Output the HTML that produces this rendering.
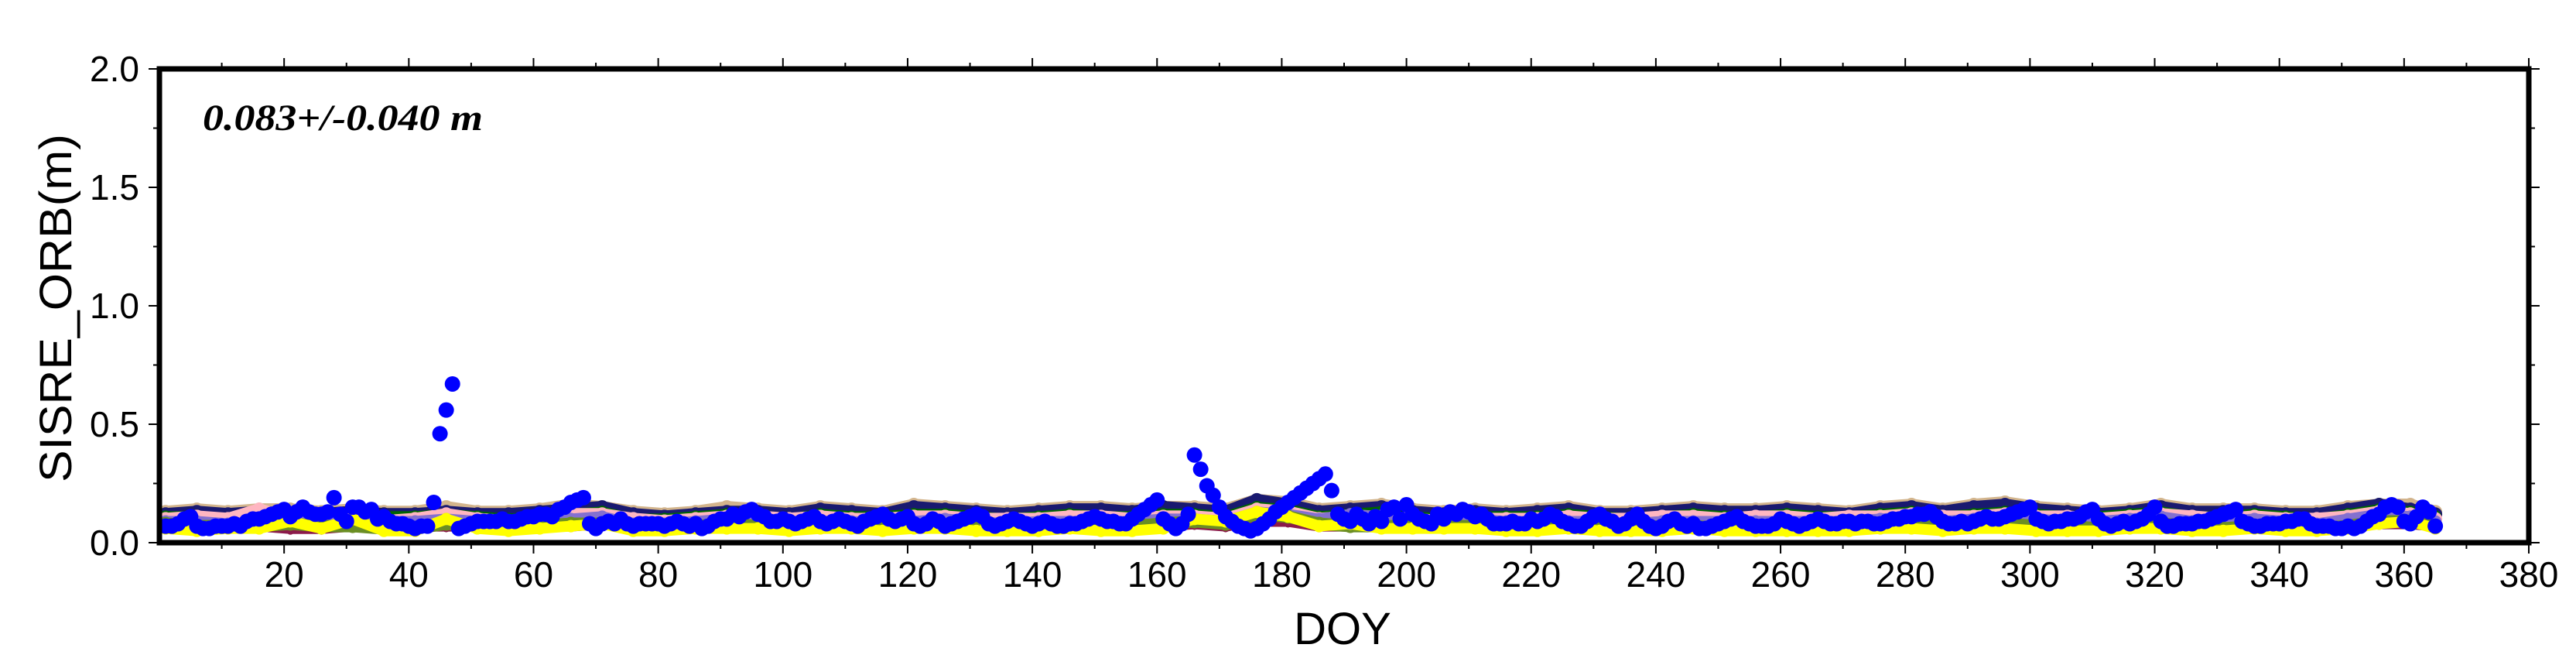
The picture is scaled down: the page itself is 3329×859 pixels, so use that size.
<!DOCTYPE html>
<html><head><meta charset="utf-8"><style>
html,body{margin:0;padding:0;background:#fff;width:3329px;height:859px;overflow:hidden}
svg{display:block}
</style></head><body>
<svg id="chart" xmlns="http://www.w3.org/2000/svg" width="3329" height="859" viewBox="0 0 3329 859">
<rect x="0" y="0" width="3329" height="859" fill="#fff"/>
<g id="series"></g>
<g id="axes"></g>
<text x="262" y="168" font-family="Liberation Serif, serif" font-weight="bold" font-style="italic" font-size="48" textLength="362" lengthAdjust="spacingAndGlyphs">0.083+/-0.040 m</text>
<text transform="translate(92,398) rotate(-90)" text-anchor="middle" font-family="Liberation Sans, sans-serif" font-size="58" textLength="450" lengthAdjust="spacingAndGlyphs">SISRE_ORB(m)</text>
<text x="1735" y="832" text-anchor="middle" font-family="Liberation Sans, sans-serif" font-size="58">DOY</text>
</svg>
<script>
const xTicks=[20,40,60,80,100,120,140,160,180,200,220,240,260,280,300,320,340,360,380];
const yTicks=[0.0,0.5,1.0,1.5,2.0];
const yTickLabels=["0.0","0.5","1.0","1.5","2.0"];
const blue=[.07,.07,.08,.10,.11,.07,.06,.06,.07,.07,
.07,.08,.07,.09,.10,.10,.11,.12,.13,.14,
.11,.13,.15,.13,.12,.12,.13,.19,.12,.09,
.15,.15,.13,.14,.10,.11,.09,.08,.08,.07,
.06,.07,.07,.17,.46,.56,.67,.06,.07,.08,
.09,.09,.09,.09,.10,.09,.09,.10,.11,.11,
.12,.12,.11,.14,.15,.17,.18,.19,.08,.06,
.08,.09,.08,.10,.08,.07,.08,.08,.08,.08,
.07,.08,.09,.08,.07,.08,.06,.07,.09,.10,
.10,.12,.11,.13,.14,.12,.11,.09,.09,.10,
.09,.08,.09,.10,.11,.09,.08,.09,.10,.09,
.08,.07,.09,.10,.11,.12,.10,.09,.10,.11,
.08,.07,.08,.10,.09,.07,.08,.09,.10,.11,
.12,.11,.08,.07,.08,.09,.10,.09,.08,.07,
.08,.09,.08,.07,.07,.08,.08,.09,.10,.11,
.10,.09,.09,.08,.08,.10,.12,.14,.16,.18,
.10,.08,.06,.08,.12,.37,.31,.24,.20,.15,
.11,.09,.07,.06,.05,.06,.08,.10,.13,.15,
.17,.19,.21,.23,.25,.27,.29,.22,.12,.10,
.09,.12,.10,.08,.11,.09,.14,.15,.10,.16,
.12,.10,.09,.08,.12,.10,.13,.12,.14,.13,
.11,.12,.10,.08,.08,.08,.09,.08,.08,.10,
.09,.10,.12,.11,.09,.08,.07,.07,.09,.11,
.12,.10,.09,.07,.08,.10,.12,.09,.07,.06,
.07,.09,.10,.08,.07,.08,.06,.06,.07,.08,
.09,.10,.11,.09,.08,.07,.07,.07,.08,.10,
.09,.08,.07,.08,.09,.10,.09,.08,.08,.09,
.09,.08,.09,.09,.08,.08,.09,.10,.10,.11,
.11,.12,.12,.13,.11,.09,.08,.08,.09,.08,
.09,.10,.11,.10,.10,.11,.12,.13,.14,.15,
.10,.09,.08,.09,.09,.10,.10,.11,.13,.14,
.10,.08,.07,.08,.09,.08,.09,.10,.12,.15,
.09,.07,.07,.08,.08,.08,.09,.09,.10,.11,
.12,.13,.14,.09,.08,.07,.07,.08,.08,.08,
.09,.09,.10,.10,.08,.07,.07,.07,.06,.06,
.07,.06,.07,.09,.11,.12,.15,.16,.15,.09,
.08,.11,.15,.13,.07];
const bgDays=[1,6,11,16,21,26,31,36,41,46,51,56,61,66,71,76,81,86,91,96,101,106,111,116,121,126,131,136,141,146,151,156,161,166,171,176,181,186,191,196,201,206,211,216,221,226,231,236,241,246,251,256,261,266,271,276,281,286,291,296,301,306,311,316,321,326,331,336,341,346,351,356,361,365];
const tan=[.13,.14,.13,.14,.14,.13,.14,.13,.13,.15,.13,.13,.14,.16,.15,.13,.12,.13,.15,.14,.13,.15,.14,.13,.16,.15,.14,.13,.14,.15,.15,.14,.15,.15,.14,.18,.17,.14,.15,.16,.14,.13,.14,.13,.14,.15,.13,.13,.14,.15,.14,.14,.15,.14,.13,.15,.16,.14,.16,.17,.15,.14,.13,.14,.16,.14,.14,.14,.13,.13,.15,.16,.16,.13];
const navy=[.12,.13,.12,.13,.12,.12,.13,.12,.12,.13,.12,.12,.13,.14,.15,.12,.11,.12,.13,.13,.12,.14,.13,.12,.15,.14,.13,.12,.13,.14,.14,.13,.15,.14,.13,.18,.16,.13,.14,.15,.13,.12,.13,.12,.13,.14,.12,.12,.13,.14,.13,.13,.14,.13,.12,.14,.15,.13,.15,.16,.14,.13,.12,.13,.15,.13,.13,.13,.12,.12,.14,.16,.14,.12];
const green=[.11,.11,.10,.11,.12,.11,.10,.11,.11,.12,.11,.10,.11,.12,.13,.10,.10,.11,.12,.11,.10,.12,.11,.11,.12,.12,.11,.10,.11,.12,.11,.11,.12,.12,.11,.15,.14,.11,.12,.13,.11,.10,.11,.11,.11,.12,.11,.10,.11,.12,.11,.11,.12,.11,.11,.12,.13,.11,.12,.13,.12,.11,.11,.12,.13,.11,.11,.12,.11,.10,.12,.14,.13,.11];
const pink=[.10,.11,.10,.14,.10,.11,.10,.09,.10,.12,.10,.09,.10,.12,.12,.10,.09,.10,.11,.11,.10,.11,.10,.10,.11,.11,.10,.10,.10,.11,.11,.10,.11,.11,.10,.14,.13,.10,.11,.11,.10,.09,.10,.10,.10,.11,.10,.10,.11,.11,.10,.11,.11,.10,.11,.11,.12,.11,.11,.12,.11,.11,.10,.11,.12,.11,.10,.11,.10,.10,.11,.13,.12,.10];
const lavender=[.09,.09,.08,.09,.11,.10,.09,.09,.09,.10,.09,.08,.09,.10,.11,.08,.08,.09,.10,.09,.08,.09,.09,.08,.09,.10,.09,.08,.09,.09,.09,.09,.10,.10,.09,.13,.12,.10,.12,.11,.09,.09,.10,.09,.09,.09,.09,.08,.09,.09,.09,.09,.09,.09,.09,.10,.11,.09,.10,.11,.10,.09,.09,.10,.11,.09,.09,.10,.09,.08,.10,.12,.11,.09];
const olive=[.08,.07,.07,.07,.08,.07,.07,.06,.06,.08,.07,.06,.07,.08,.08,.07,.06,.07,.08,.07,.06,.07,.07,.06,.07,.07,.06,.06,.07,.07,.07,.07,.08,.09,.08,.12,.11,.08,.07,.07,.07,.07,.07,.06,.07,.07,.07,.06,.07,.07,.06,.06,.07,.07,.06,.07,.07,.07,.07,.08,.07,.07,.06,.07,.08,.07,.06,.07,.06,.06,.07,.09,.09,.07];
const yellow=[.06,.05,.06,.06,.09,.06,.10,.05,.05,.10,.06,.05,.06,.07,.08,.05,.05,.06,.06,.06,.05,.06,.06,.05,.06,.06,.05,.05,.05,.06,.05,.05,.06,.10,.09,.13,.11,.07,.08,.06,.06,.06,.06,.05,.05,.06,.05,.05,.05,.06,.05,.05,.05,.05,.05,.06,.06,.05,.06,.06,.05,.05,.05,.06,.06,.05,.05,.06,.05,.05,.06,.08,.09,.06];
const maroon=[.06,.06,.06,.06,.05,.05,.06,.05,.06,.06,.06,.06,.06,.06,.07,.06,.06,.06,.06,.06,.06,.06,.06,.06,.06,.06,.06,.06,.06,.06,.06,.06,.06,.07,.06,.08,.08,.06,.06,.06,.06,.06,.06,.06,.06,.06,.06,.06,.06,.06,.06,.06,.06,.06,.06,.06,.06,.06,.06,.06,.06,.06,.06,.06,.06,.06,.06,.06,.06,.06,.06,.07,.07,.06];

const X0=206,X1=3268,Y0=701,Y1=89,XMIN=0,XMAX=380,YMIN=0,YMAX=2;
function xs(d){return X0+(d-XMIN)/(XMAX-XMIN)*(X1-X0);}
function ys(v){return Y0-(v-YMIN)/(YMAX-YMIN)*(Y0-Y1);}
const NS="http://www.w3.org/2000/svg";
const sg=document.getElementById('series');
const ag=document.getElementById('axes');
function mk(tag,attrs,parent){const e=document.createElementNS(NS,tag);for(const k in attrs)e.setAttribute(k,attrs[k]);parent.appendChild(e);return e;}

const bgSeries=[[maroon,'#8b1a4a','maroon',8],[tan,'#d2b48c','tan',16],[navy,'#191970','navy',16],[green,'#006400','green',14],[pink,'#ffb6c1','pink',16],[lavender,'#8470d0','lavender',14],[olive,'#6b8e23','olive',16],[yellow,'#ffff00','yellow',14]];
bgSeries.forEach(function(s){
  const vals=s[0],col=s[1],nm=s[2],sw=s[3];
  const g=mk('g',{},sg);
  
  
  let pts=bgDays.map(function(d,i){return xs(d)+','+ys(vals[i]);}).join(' ');
  const pl=mk('polyline',{points:pts,fill:'none',stroke:col,'stroke-width':sw,'stroke-linejoin':'round','stroke-linecap':'round'},g);
  
  
  bgDays.forEach(function(d,i){
    const c=mk('circle',{cx:xs(d),cy:ys(vals[i]),r:sw/2+1,fill:col},g);
    
    
  });
});
const bg=mk('g',{},sg);


blue.forEach(function(v,i){
  const c=mk('circle',{cx:xs(i+1),cy:ys(v),r:10,fill:'#0000ff'},bg);
  
  
});

const fr=mk('rect',{x:X0,y:Y1,width:X1-X0,height:Y0-Y1,fill:'none',stroke:'#000','stroke-width':7},ag);


for(let d=10;d<=380;d+=10){
  const major=(d%20===0);
  const len=major?14:8;
  const t1=mk('line',{x1:xs(d),x2:xs(d),y1:Y0,y2:Y0+len,stroke:'#000','stroke-width':2},ag);
  
  
  const t2=mk('line',{x1:xs(d),x2:xs(d),y1:Y1,y2:Y1-len,stroke:'#000','stroke-width':2},ag);
  
  
}
xTicks.forEach(function(d){
  const t=mk('text',{x:xs(d),y:758,'text-anchor':'middle','font-family':'Liberation Sans, sans-serif','font-size':46},ag);
  t.textContent=String(d);
  
  
});
for(let v=0;v<=2.0001;v+=0.25){
  const major=(Math.abs(v*2-Math.round(v*2))<1e-6);
  const len=major?14:8;
  const t1=mk('line',{x1:X0-len,x2:X0,y1:ys(v),y2:ys(v),stroke:'#000','stroke-width':2},ag);
  
  
  const t2=mk('line',{x1:X1,x2:X1+len,y1:ys(v),y2:ys(v),stroke:'#000','stroke-width':2},ag);
  
  
}
yTicks.forEach(function(v,i){
  const t=mk('text',{x:180,y:ys(v)+16,'text-anchor':'end','font-family':'Liberation Sans, sans-serif','font-size':46},ag);
  t.textContent=yTickLabels[i];
  
  
});
</script>
</body></html>
